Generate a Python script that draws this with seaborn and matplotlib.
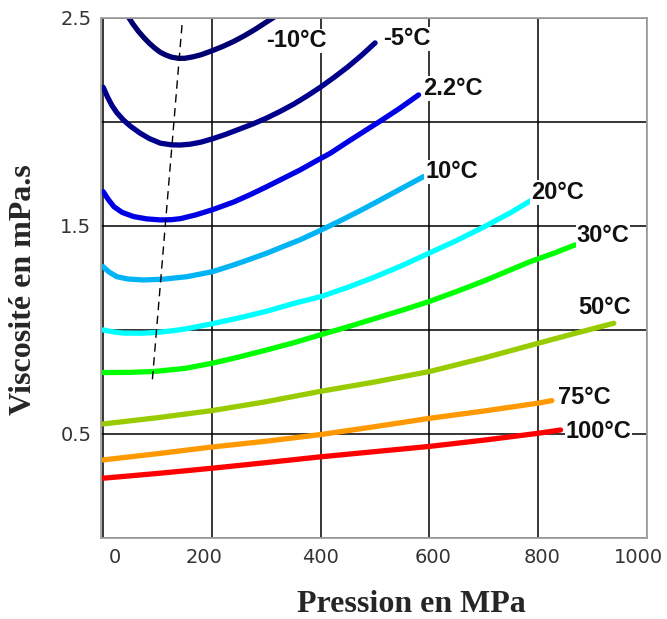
import matplotlib.pyplot as plt
import matplotlib.transforms as mtransforms
import seaborn as sns
import pandas as pd

# viscosity vs pressure, one curve per temperature
temperatures = ["-10°C", "-5°C", "2.2°C", "10°C", "20°C", "30°C", "50°C", "75°C", "100°C"]
colors = ["#000070", "#00008c", "#0000e6", "#00b4f5", "#00ffff",
          "#00ff00", "#99cc00", "#ff9900", "#ff0000"]

p_m10 = [45, 55, 65, 75, 85, 95, 105, 115, 125, 138, 150, 165, 180, 200, 220, 240,
         260, 280, 300, 315]
v_m10 = [2.51, 2.47, 2.435, 2.405, 2.378, 2.355, 2.335, 2.322, 2.312, 2.306, 2.306,
         2.313, 2.323, 2.342, 2.363, 2.387, 2.415, 2.446, 2.48, 2.505]
p_m5 = [0, 8, 16, 25, 37, 50, 68, 85, 105, 125, 142, 160, 180, 200, 225, 250, 275,
        300, 325, 350, 375, 400, 425, 450, 475, 500]
v_m5 = [2.167, 2.12, 2.08, 2.045, 2.01, 1.98, 1.946, 1.92, 1.898, 1.890, 1.889, 1.893,
        1.903, 1.918, 1.94, 1.965, 1.99, 2.018, 2.05, 2.085, 2.125, 2.168, 2.215, 2.265,
        2.32, 2.38]
p_2 = [0, 10, 20, 35, 56, 80, 105, 125, 142, 170, 201, 240, 270, 301, 330, 362, 390,
       418, 450, 480, 510, 545, 580]
v_2 = [1.665, 1.625, 1.592, 1.565, 1.545, 1.534, 1.529, 1.530, 1.535, 1.553, 1.578,
       1.615, 1.65, 1.689, 1.727, 1.769, 1.81, 1.85, 1.905, 1.955, 2.005, 2.065, 2.13]
p_10 = [0, 10, 25, 45, 74, 111, 154, 201, 240, 270, 301, 330, 362, 399, 436, 470,
        504, 545, 589]
v_10 = [1.304, 1.28, 1.256, 1.245, 1.240, 1.244, 1.256, 1.280, 1.3125, 1.34, 1.369,
        1.40, 1.433, 1.478, 1.525, 1.57, 1.617, 1.675, 1.737]
p_20 = [0, 20, 37, 70, 99, 130, 154, 201, 250, 301, 350, 400, 450, 500, 550, 600,
        650, 700, 750, 785]
v_20 = [1.0, 0.99, 0.985, 0.984, 0.988, 0.997, 1.006, 1.030, 1.058, 1.09, 1.127, 1.16,
        1.205, 1.255, 1.31, 1.37, 1.43, 1.495, 1.565, 1.62]
p_30 = [0, 50, 93, 150, 201, 250, 301, 350, 399, 450, 500, 550, 600, 650, 700, 750,
        785, 830, 868]
v_30 = [0.795, 0.796, 0.80, 0.815, 0.84, 0.87, 0.904, 0.938, 0.976, 1.015, 1.055,
        1.095, 1.137, 1.185, 1.235, 1.29, 1.328, 1.37, 1.409]
p_50 = [0, 100, 200, 300, 400, 500, 600, 700, 800, 870, 939]
v_50 = [0.548, 0.578, 0.612, 0.655, 0.705, 0.75, 0.80, 0.865, 0.936, 0.985, 1.032]
p_75 = [0, 100, 200, 300, 400, 500, 600, 700, 800, 825]
v_75 = [0.375, 0.405, 0.437, 0.465, 0.497, 0.535, 0.575, 0.61, 0.648, 0.66]
p_100 = [0, 100, 200, 300, 400, 500, 600, 700, 800, 841]
v_100 = [0.287, 0.31, 0.335, 0.362, 0.39, 0.415, 0.44, 0.47, 0.503, 0.519]

# locus of the minima
p_min = [145, 90]
v_min = [2.466, 0.745]

x_ticks = [0, 200, 400, 600, 800, 1000]
y_ticks = [0, 0.5, 1.0, 1.5, 2.0, 2.5]
y_tick_labels = ["", "0.5", "", "1.5", "", "2.5"]

pressures = [p_m10, p_m5, p_2, p_10, p_20, p_30, p_50, p_75, p_100]
viscosities = [v_m10, v_m5, v_2, v_10, v_20, v_30, v_50, v_75, v_100]

frames = []
for temp, p, v in zip(temperatures, pressures, viscosities):
    frames.append(pd.DataFrame({"pression": p, "viscosite": v, "temp": temp}))
df = pd.concat(frames, ignore_index=True)

# where each curve's label sits
label_anchor = {
    "-10°C": (300, 2.39), "-5°C": (515, 2.40), "2.2°C": (588, 2.16),
    "10°C": (592, 1.76), "20°C": (787, 1.66), "30°C": (870, 1.455),
    "50°C": (874, 1.11), "75°C": (837, 0.673), "100°C": (850, 0.51),
}

sns.set_style("white")

fig = plt.figure(figsize=(6.67, 6.19), dpi=100)
ax = fig.add_axes([0.1514, 0.131, 0.8186, 0.840])

sns.lineplot(data=df, x="pression", y="viscosite", hue="temp",
             hue_order=temperatures, palette=colors, sort=False,
             estimator=None, linewidth=3.8, legend=False, ax=ax, zorder=3)
ax.plot(p_min, v_min, color="black", linestyle=(0, (6, 4)), linewidth=1.0, zorder=4)

for temp in temperatures:
    x, y = label_anchor[temp]
    ax.text(x, y, temp, fontsize=17, fontweight="bold", family="Liberation Sans",
            color="#111111", ha="left", va="center", zorder=5,
            bbox=dict(facecolor="white", edgecolor="none", pad=0.5))

ax.set_xlim(-4, 1000)
ax.set_ylim(0, 2.5)
ax.set_xticks(x_ticks)
ax.set_yticks(y_ticks)
ax.set_yticklabels(y_tick_labels)
ax.grid(True, color="black", linewidth=1.1)
ax.set_axisbelow(True)
for spine in ax.spines.values():
    spine.set_color("#a0a0a0")
    spine.set_linewidth(1.3)
    spine.set_zorder(6)
ax.tick_params(axis="both", direction="out", length=4, width=1, color="#555555",
               labelsize=14, labelcolor="#333333", pad=3)
ax.set_xlabel("")
ax.set_ylabel("")

# the original tick labels sit a little off their ticks
for label, dx in zip(ax.get_xticklabels(), [12, -8, 0, 4, 4, -9]):
    shift = mtransforms.ScaledTranslation(dx / 100, 0, fig.dpi_scale_trans)
    label.set_transform(label.get_transform() + shift)

fig.text(0.617, 0.023, "Pression en MPa", family="Liberation Serif",
         fontweight="bold", fontsize=23, ha="center", va="center")
fig.text(0.035, 0.532, "Viscosité en mPa.s", family="Liberation Serif",
         fontweight="bold", fontsize=23, ha="center", va="center", rotation=90)

fig.savefig("out.png", dpi=100, facecolor="white")
